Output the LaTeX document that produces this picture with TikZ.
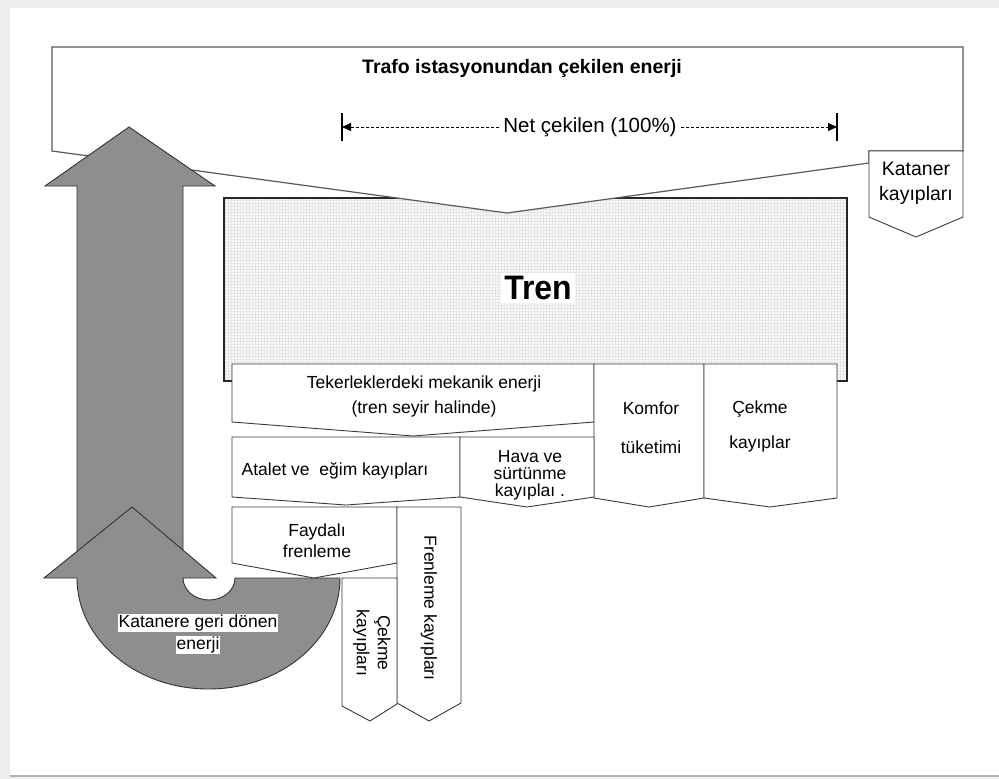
\documentclass[tikz,border=0pt]{standalone}
\usepackage{fontspec}
\setmainfont{Liberation Sans}
\usetikzlibrary{patterns,arrows.meta}

\definecolor{flowgray}{HTML}{8E8E8E}
\definecolor{edgegray}{HTML}{3A3A3A}
\setlength{\fboxsep}{1pt}

\begin{document}
\begin{tikzpicture}[x=1pt,y=-1pt,line join=miter,
    flowbox/.style={draw=edgegray,fill=white,line width=0.9pt},
    bigflow/.style={draw=black!80,fill=flowgray,line width=0.9pt},
    boxtext/.style={align=center,inner sep=0pt,font=\fontsize{17.5}{#1}\selectfont},
    boxtext/.default=21,
    netarrow/.style={-{Triangle[length=9pt,width=8pt]},dash pattern=on 3pt off 2pt,line width=0.8pt}]
    \useasboundingbox (0,0) rectangle (999,779);
    % page frame
    \fill[gray!14] (0,0) rectangle (999,779);
    \fill[white] (10,8) rectangle (999,775);
    \draw[gray!60,line width=2pt] (10,776) -- (999,776);

    % train body
    \fill[gray!5] (224,198) rectangle (847,381);
    \fill[pattern=grid,pattern color=gray!20] (224,198) rectangle (847,381);
    \draw[draw=black!85,line width=2.2pt] (224,198) rectangle (847,381);
    \node[fill=white,inner sep=3pt,font=\fontsize{34}{34}\selectfont\bfseries] (tren) at (538,288) {\scalebox{0.94}[1]{Tren}};

    % supply band
    \draw[flowbox,draw=black!65,line width=1.2pt] (52,151) -- (52,47) -- (963,47) -- (963,151) -- (869,151) -- (869,163) -- (507,213) -- cycle;
    \node[font=\fontsize{19.5}{23}\selectfont\bfseries] (trafo) at (522,68) {Trafo istasyonundan çekilen enerji};
    \node[inner sep=4pt,font=\fontsize{20.5}{24}\selectfont] (net) at (590,127) {Net çekilen (100\%)};
    \coordinate (netL) at (342,127);
    \coordinate (netR) at (837,127);
    \draw[line width=1.2pt] (netL) ++(0,-14) -- ++(0,28);
    \draw[line width=1.2pt] (netR) ++(0,-14) -- ++(0,28);
    \draw[netarrow] (net.west) -- (netL);
    \draw[netarrow] (net.east) -- (netR);

    % catenary losses
    \draw[flowbox] (869,151) -- (963,151) -- (963,217) -- (916,237) -- (869,217) -- cycle;
    \node[boxtext=25,font=\fontsize{19.5}{25}\selectfont] (katkayip) at (916,183) {Kataner\\kayıpları};

    % regenerated energy back to the line
    \draw[bigflow] (77,560) -- (77,186) -- (45,186) -- (129,127) -- (215,186) -- (183,186) -- (183,560) -- cycle;
    \draw[bigflow] (132,507) -- (216,578) -- (183,578)
        arc[start angle=180,end angle=0,x radius=26,y radius=22] -- (340,578)
        arc[start angle=0,end angle=180,x radius=131.5,y radius=111] -- (44,578) -- cycle;
    \node[boxtext=22] (geri) at (198,634) {\colorbox{white}{Katanere geri dönen}\\\colorbox{white}{enerji}};

    % losses on board
    \draw[flowbox] (232,364) -- (594,364) -- (594,422) -- (413,436) -- (232,422) -- cycle;
    \node[boxtext=25] (teker) at (424,396) {Tekerleklerdeki mekanik enerji\\(tren seyir halinde)};
    \draw[flowbox] (594,364) -- (704,364) -- (704,498) -- (649,507) -- (594,498) -- cycle;
    \node[boxtext=39] (komfor) at (651,428) {Komfor\\tüketimi};
    \draw[flowbox] (704,364) -- (837,364) -- (837,498) -- (770,507) -- (704,498) -- cycle;
    \node[boxtext=35] (cekme) at (760,426) {Çekme\\kayıplar};

    \draw[flowbox] (232,437) -- (460,437) -- (460,497) -- (346,505) -- (232,497) -- cycle;
    \node[boxtext] (atalet) at (335,471) {Atalet ve\ \ eğim kayıpları};
    \draw[flowbox] (460,437) -- (594,437) -- (594,497) -- (527,507) -- (460,497) -- cycle;
    \node[boxtext=17] (hava) at (530,475) {Hava ve\\sürtünme\\kayıplaı .};

    \draw[flowbox] (232,507) -- (397,507) -- (397,563) -- (314,578) -- (232,563) -- cycle;
    \node[boxtext] (faydali) at (317,541) {Faydalı\\frenleme};
    \draw[flowbox] (397,507) -- (461,507) -- (461,703) -- (429,721) -- (397,703) -- cycle;
    \node[boxtext,rotate=-90] (frenkayip) at (429,608) {Frenleme kayıpları};
    \draw[flowbox] (342,578) -- (397,578) -- (397,704) -- (370,721) -- (342,706) -- cycle;
    \node[boxtext,rotate=-90] (cekkayip) at (372,643) {Çekme\\kayıpları};
\end{tikzpicture}
\end{document}
